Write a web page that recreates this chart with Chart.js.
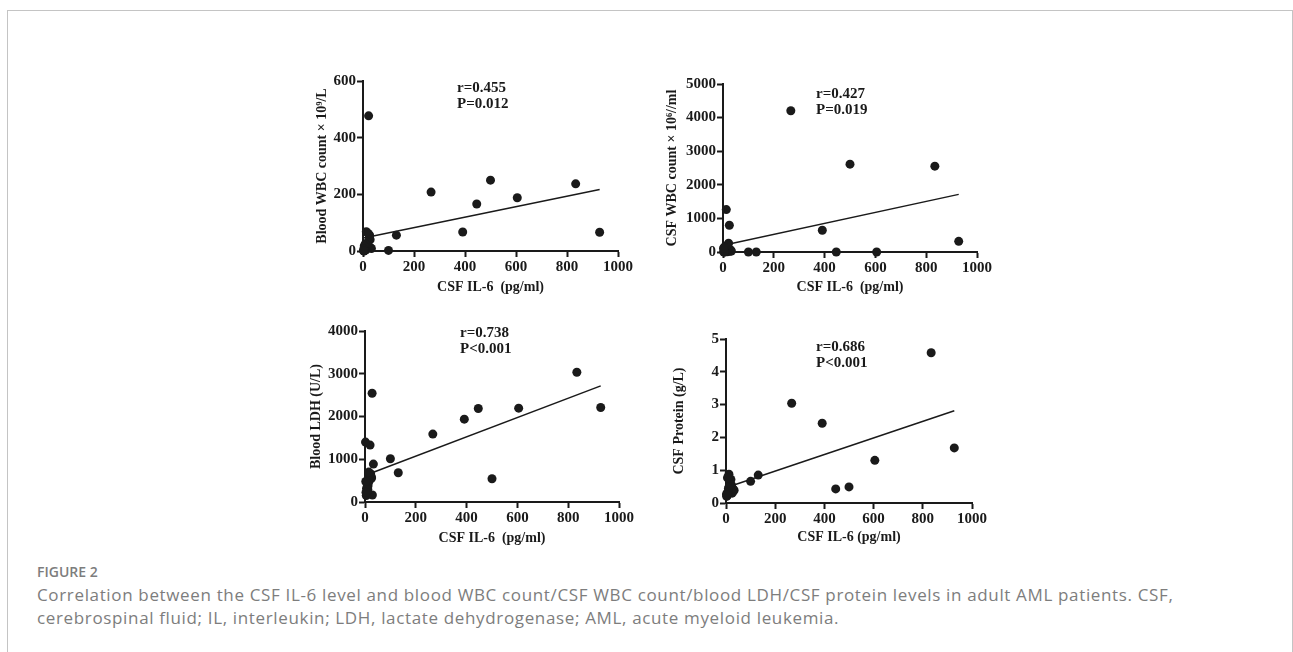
<!DOCTYPE html>
<html>
<head>
<meta charset="utf-8">
<script src="https://cdn.jsdelivr.net/npm/chart.js@4"></script>
<style>
html, body { margin:0; padding:0; background:#fff; overflow:hidden; }
body { width:1293px; height:652px; position:relative; }
#frame { position:absolute; left:7px; top:10px; width:1286px; height:700px; border:1px solid #c4c4c4; box-sizing:border-box; }
canvas { position:absolute; }
#figlabel { position:absolute; left:37px; top:562px; font:600 14px "Open Sans", sans-serif; color:#7d7d7d; }
#caption { position:absolute; left:37px; top:584px; font:17px/22.5px "Open Sans", sans-serif; letter-spacing:0.65px; color:#7d7d7d; white-space:nowrap; }
</style>
</head>
<body>
<div id="frame"></div>
<canvas id="c1"></canvas>
<canvas id="c2"></canvas>
<canvas id="c3"></canvas>
<canvas id="c4"></canvas>
<div id="figlabel">FIGURE 2</div>
<div id="caption">Correlation between the CSF IL-6 level and blood WBC count/CSF WBC count/blood LDH/CSF protein levels in adult AML patients. CSF,<br>cerebrospinal fluid; IL, interleukin; LDH, lactate dehydrogenase; AML, acute myeloid leukemia.</div>
<script>
// CSF IL-6 (pg/ml), one value per patient
var il6 = [928, 834, 605, 500, 446, 391, 267, 131, 100, 33, 29, 28, 26, 25, 22, 20, 19, 17, 15, 13, 12, 11, 10, 9, 8, 6, 5, 4, 3, 2];
var bloodWbc = [66, 237, 188, 250, 166, 67, 208, 56, 2, 9, 12, 40, 56, 48, 477, 62, 30, 20, 10, 68, 5, 15, 3, 25, 8, 2, 18, 0, 6, 1];
var csfWbc = [318, 2555, 0, 2614, 0, 646, 4205, 0, 0, 30, 60, 20, 80, 795, 260, 120, 10, 200, 40, 1262, 5, 90, 15, 50, 8, 150, 3, 25, 0, 110];
var bloodLdh = [2210, 3035, 2195, 545, 2187, 1938, 1588, 685, 1012, 887, 163, 2545, 560, 590, 661, 1331, 620, 500, 700, 450, 380, 300, 250, 420, 200, 320, 150, 230, 480, 1401];
var csfProtein = [1.68, 4.58, 1.30, 0.49, 0.43, 2.43, 3.04, 0.85, 0.66, 0.39, 0.42, 0.35, 0.45, 0.30, 0.55, 0.72, 0.40, 0.69, 0.60, 0.50, 0.88, 0.82, 0.45, 0.35, 0.28, 0.77, 0.23, 0.30, 0.20, 0.25];

// regression lines (ends)
var fitX = [2, 928];
var fitWbc = [46, 217];
var fitCsfWbc = [200, 1715];
var fitLdh = [625, 2717];
var fitProtein = [0.47, 2.81];

var xTicks = [0, 200, 400, 600, 800, 1000];
var yMax = [600, 5000, 4000, 5];
var yStep = [200, 1000, 1000, 1];
var rText = ['r=0.455', 'r=0.427', 'r=0.738', 'r=0.686'];
var pText = ['P=0.012', 'P=0.019', 'P<0.001', 'P<0.001'];
var yTitles = ['Blood WBC count \u00d7 10\u2079/L', 'CSF WBC count \u00d7 10\u2076//ml', 'Blood LDH (U/L)', 'CSF Protein (g/L)'];
var xTitles = ['CSF IL-6  (pg/ml)', 'CSF IL-6  (pg/ml)', 'CSF IL-6  (pg/ml)', 'CSF IL-6 (pg/ml)'];

var serif = '"Liberation Serif", "Times New Roman", serif';

// plot boxes on the page: left, right, top, bottom, y title centre x, x title centre y, stats offset
var boxes = [
    {l: 363, r: 618, t: 81, b: 251, ytx: 322, xty: 287, sx: 94, sy: 7},
    {l: 723, r: 977, t: 84, b: 252, ytx: 672, xty: 287, sx: 93, sy: 10},
    {l: 365, r: 619, t: 331, b: 502, ytx: 316, xty: 538, sx: 95, sy: 2},
    {l: 726, r: 972, t: 339, b: 503, ytx: 679, xty: 537, sx: 90, sy: 8}
];

var seriesY = [bloodWbc, csfWbc, bloodLdh, csfProtein];
var fits = [fitWbc, fitCsfWbc, fitLdh, fitProtein];

function pts(xs, ys) {
    return xs.map(function (x, i) { return {x: x, y: ys[i]}; });
}

var statsPlugin = {
    id: 'stats',
    afterDraw: function (chart) {
        var o = chart.options.plugins.stats;
        var c = chart.ctx, a = chart.chartArea;
        c.save();
        c.fillStyle = '#1a1a1a';
        c.font = 'bold 15px ' + serif;
        c.textAlign = 'left';
        c.textBaseline = 'middle';
        c.fillText(o.r, a.left + o.dx, a.top + o.dy);
        c.fillText(o.p, a.left + o.dx, a.top + o.dy + 16);
        c.restore();
    }
};

var AXW = 90, PADT = 25, PADR = 22, AXH = 62, LH = 16.8;

boxes.forEach(function (b, i) {
    var cv = document.getElementById('c' + (i + 1));
    var left = b.l - AXW, top = b.t - PADT;
    var w = b.r - left + PADR, h = b.b + AXH - top;
    cv.style.left = left + 'px';
    cv.style.top = top + 'px';
    cv.width = w;
    cv.height = h;

    var tickFont = {family: serif, size: 15, weight: 'bold'};
    var titleFont = {family: serif, size: 14, weight: 'bold'};
    var plain = function (v) { return String(v); };

    new Chart(cv.getContext('2d'), {
        type: 'scatter',
        data: {
            datasets: [{
                data: pts(il6, seriesY[i]),
                backgroundColor: '#1a1a1a',
                borderWidth: 0,
                pointRadius: 4.5,
                clip: false
            }, {
                type: 'line',
                data: pts(fitX, fits[i]),
                borderColor: '#1a1a1a',
                borderWidth: 1.5,
                pointRadius: 0,
                fill: false,
                clip: false
            }]
        },
        options: {
            responsive: false,
            animation: false,
            layout: {padding: {top: PADT, right: PADR, left: 0, bottom: 0}},
            plugins: {
                legend: {display: false},
                tooltip: {enabled: false},
                stats: {r: rText[i], p: pText[i], dx: b.sx, dy: b.sy}
            },
            scales: {
                x: {
                    type: 'linear',
                    min: xTicks[0],
                    max: xTicks[xTicks.length - 1],
                    afterBuildTicks: function (s) { s.ticks = xTicks.map(function (v) { return {value: v}; }); },
                    afterFit: function (s) { s.height = AXH; },
                    ticks: {color: '#1a1a1a', font: tickFont, padding: 1, maxRotation: 0, autoSkip: false, callback: plain},
                    grid: {drawOnChartArea: false, drawTicks: true, tickLength: 6, tickWidth: 2, color: '#1a1a1a'},
                    border: {color: '#1a1a1a', width: 2},
                    title: {display: true, text: xTitles[i], color: '#1a1a1a', font: titleFont,
                        padding: {top: 0, bottom: (top + h) - b.xty - LH / 2}}
                },
                y: {
                    min: 0,
                    max: yMax[i],
                    afterFit: function (s) { s.width = AXW; },
                    ticks: {stepSize: yStep[i], color: '#1a1a1a', font: tickFont, padding: 1, callback: plain},
                    grid: {drawOnChartArea: false, drawTicks: true, tickLength: 6, tickWidth: 2, color: '#1a1a1a'},
                    border: {color: '#1a1a1a', width: 2},
                    title: {display: true, text: yTitles[i], color: '#1a1a1a', font: titleFont,
                        padding: {top: b.ytx - left - LH / 2, bottom: 0}}
                }
            }
        },
        plugins: [statsPlugin]
    });
});
</script>
</body>
</html>
